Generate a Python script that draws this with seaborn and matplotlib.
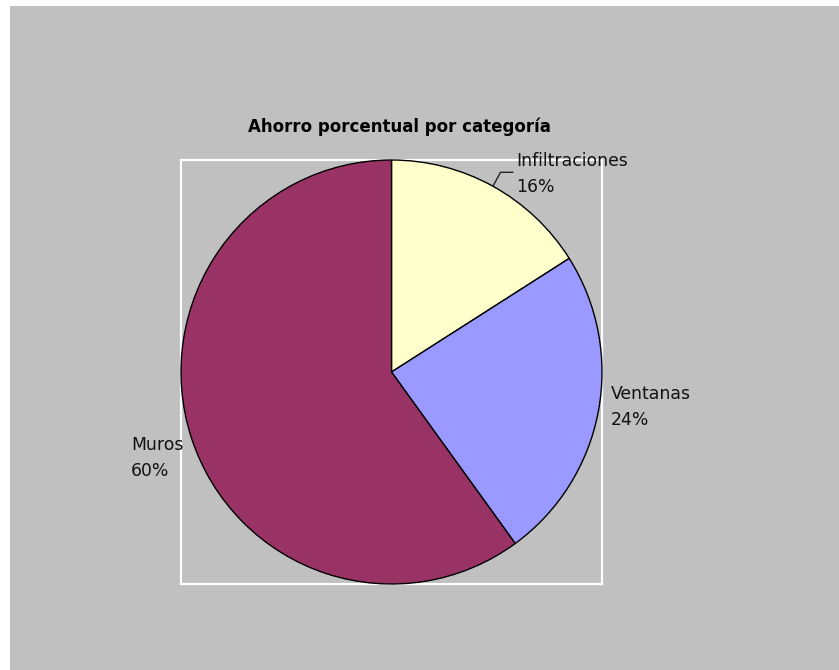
import matplotlib
matplotlib.use("Agg")
import matplotlib.pyplot as plt
from matplotlib.patches import Rectangle
import seaborn as sns
import numpy as np

# Data
categories = ["Infiltraciones", "Ventanas", "Muros"]
values = [16, 24, 60]
colors = ["#FFFFCC", "#9999FF", "#993366"]
title = "Ahorro porcentual por categoría"

sns.set_theme(style="white")
plt.rcParams["font.family"] = ["DejaVu Sans"]

W, H = 839, 670
fig = plt.figure(figsize=(W / 100, H / 100), dpi=100, facecolor="white")

# gray panel
fig.patches.append(Rectangle((10 / W, 0), 1 - 10 / W, 1 - 6 / H,
                             transform=fig.transFigure, facecolor="#C0C0C0",
                             edgecolor="none", zorder=-10))

# axes box matching pie bounding square (pixels)
x0, x1, ytop, ybot = 181, 602, 160, 584
ax = fig.add_axes([x0 / W, 1 - ybot / H, (x1 - x0) / W, (ybot - ytop) / H])
ax.set_zorder(5)
ax.set_facecolor("#C0C0C0")

wedges, _ = ax.pie(values, colors=colors, startangle=90, counterclock=False,
                   wedgeprops=dict(edgecolor="black", linewidth=1.0),
                   radius=1.0, frame=True)
for w in wedges:
    w.set_clip_on(False)
    w.set_zorder(3)
ax.set_aspect("auto")
ax.set_xlim(-1, 1)
ax.set_ylim(-1, 1)
ax.set_xticks([])
ax.set_yticks([])
for s in ax.spines.values():
    s.set_visible(True)
    s.set_color("white")
    s.set_linewidth(1.6)
    s.set_zorder(1)

cx, cy = (x0 + x1) / 2, (ytop + ybot) / 2
Rx, Ry = (x1 - x0) / 2, (ybot - ytop) / 2


def p2d(px, py):
    return (px - cx) / Rx, (cy - py) / Ry


fs = 12.4
# label layout (pixel anchors: left x, baseline of first line)
label_pos = {"Infiltraciones": (516, 166), "Ventanas": (611, 399), "Muros": (131, 450)}
line_gap = 26
for cat, val in zip(categories, values):
    lx, ly = label_pos[cat]
    tx, ty = p2d(lx, ly)
    ax.text(tx, ty, cat, ha="left", va="baseline", fontsize=fs, color="#111111",
            clip_on=False, zorder=6)
    tx2, ty2 = p2d(lx, ly + line_gap)
    ax.text(tx2, ty2, f"{val:.0f}%", ha="left", va="baseline", fontsize=fs,
            color="#111111", clip_on=False, zorder=6)

# leader line for first wedge
w = wedges[0]
mid = np.deg2rad((w.theta1 + w.theta2) / 2)
sx, sy = np.cos(mid), np.sin(mid)
ex, ey = 1.075 * np.cos(mid), 1.075 * np.sin(mid)
hx, _ = p2d(513, 0)
ax.plot([sx, ex, hx], [sy, ey, ey], color="#222222", linewidth=1.0, clip_on=False)

fig.text(399 / W, 1 - 127 / H, title, ha="center", va="center", fontsize=12,
         fontweight="bold", color="black")

fig.savefig("out.png", dpi=100, facecolor="white")
